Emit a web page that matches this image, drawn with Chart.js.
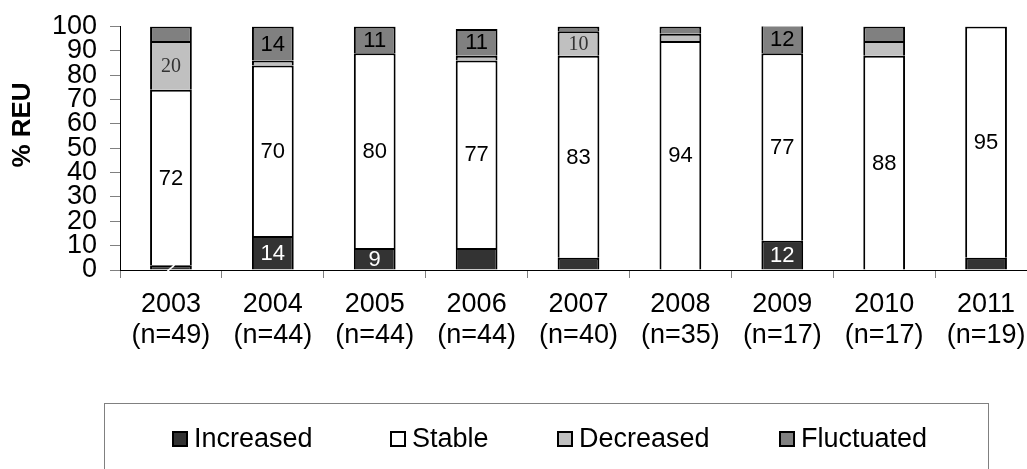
<!DOCTYPE html>
<html>
<head>
<meta charset="utf-8">
<script src="https://cdn.jsdelivr.net/npm/chart.js@4.4.0/dist/chart.umd.min.js"></script>
<style>
  html, body { margin: 0; padding: 0; background: #fff; overflow: hidden; }
  #wrap { position: relative; width: 1040px; height: 469px; }
</style>
</head>
<body>
<div id="wrap"><canvas id="c" width="1040" height="469"></canvas></div>
<script>
// Survey years and the number of responses per year
const years = ['2003', '2004', '2005', '2006', '2007', '2008', '2009', '2010', '2011'];
const sampleSizes = [49, 44, 44, 44, 40, 35, 17, 17, 19];

// Share of REU (%) in each trend class
const increased  = [2, 14, 9, 9, 5, 0, 12, 0, 5];
const stable     = [72, 70, 80, 77, 83, 94, 77, 88, 95];
const decreased  = [20, 2, 0, 2, 10, 3, 0, 6, 0];
const fluctuated = [6, 14, 11, 11, 2, 3, 12, 6, 0];

// Segments that carry a printed value
const showIncreased  = [true, true, true, false, false, false, true, false, false];
const showStable     = [true, true, true, true, true, true, true, true, true];
const showDecreased  = [true, false, false, false, true, false, false, false, false];
const showFluctuated = [false, true, true, true, false, false, true, false, false];

const yTicks = [0, 10, 20, 30, 40, 50, 60, 70, 80, 90, 100];
const yTitle = '% REU';

const SANS = '"Liberation Sans", Arial, Helvetica, sans-serif';
const SERIF = '"Liberation Serif", "Times New Roman", serif';

Chart.defaults.font.family = SANS;
Chart.defaults.color = '#000';

const categoryLabels = years.map((y, i) => [y, '(n=' + sampleSizes[i] + ')']);

function series(label, data, fill, show, labelColor, labelFont) {
  return {
    label: label,
    data: data,
    backgroundColor: fill,
    borderColor: '#000',
    borderWidth: 2,
    barPercentage: 0.41,
    categoryPercentage: 1.0,
    showValue: show,
    labelColor: labelColor,
    labelFont: labelFont
  };
}

// Value labels centred in each stacked segment
const valueLabels = {
  id: 'valueLabels',
  afterDatasetsDraw(chart) {
    const ctx = chart.ctx;
    chart.data.datasets.forEach((ds, i) => {
      const meta = chart.getDatasetMeta(i);
      meta.data.forEach((bar, j) => {
        if (!ds.showValue[j]) return;
        const p = bar.getProps(['x', 'y', 'base'], true);
        ctx.save();
        ctx.font = ds.labelFont;
        ctx.fillStyle = ds.labelColor;
        ctx.textAlign = 'center';
        ctx.textBaseline = 'middle';
        ctx.fillText(String(ds.data[j]), p.x, (p.y + p.base) / 2 + 1);
        ctx.restore();
      });
    });
  }
};

// Rotated y-axis title
const axisTitle = {
  id: 'axisTitle',
  afterDraw(chart) {
    const ctx = chart.ctx;
    ctx.save();
    ctx.translate(23, 125);
    ctx.rotate(-Math.PI / 2);
    ctx.font = 'bold 26px ' + SANS;
    ctx.fillStyle = '#000';
    ctx.textAlign = 'center';
    ctx.textBaseline = 'middle';
    ctx.fillText(yTitle, 0, 0);
    ctx.restore();
  }
};

// Framed legend under the plot
const framedLegend = {
  id: 'framedLegend',
  afterDraw(chart) {
    const ctx = chart.ctx;
    ctx.save();
    ctx.strokeStyle = '#808080';
    ctx.lineWidth = 1;
    ctx.strokeRect(104.5, 403.5, 884, 100);
    const boxX = [172, 390, 557, 779];
    const boxY = 431, size = 16;
    ctx.font = '27px ' + SANS;
    ctx.textBaseline = 'middle';
    ctx.textAlign = 'left';
    chart.data.datasets.forEach((ds, i) => {
      const x = boxX[i];
      ctx.fillStyle = '#000';
      ctx.fillRect(x, boxY, size, size);
      ctx.fillStyle = ds.backgroundColor;
      ctx.fillRect(x + 2, boxY + 2, size - 4, size - 4);
      ctx.fillStyle = '#000';
      ctx.fillText(ds.label, x + size + 6, boxY + size / 2 + 1);
    });
    ctx.restore();
  }
};

new Chart(document.getElementById('c'), {
  type: 'bar',
  data: {
    labels: categoryLabels,
    datasets: [
      series('Increased', increased, '#333333', showIncreased, '#fff', '22px ' + SANS),
      series('Stable', stable, '#ffffff', showStable, '#000', '22px ' + SANS),
      series('Decreased', decreased, '#c0c0c0', showDecreased, '#333', '20px ' + SERIF),
      series('Fluctuated', fluctuated, '#808080', showFluctuated, '#000', '22px ' + SANS)
    ]
  },
  options: {
    responsive: false,
    animation: false,
    devicePixelRatio: 1,
    layout: { padding: { top: 25, right: 3, left: 0, bottom: 0 } },
    plugins: {
      legend: { display: false },
      tooltip: { enabled: false }
    },
    scales: {
      x: {
        stacked: true,
        offset: true,
        grid: {
          display: true,
          drawOnChartArea: false,
          offset: true,
          tickLength: 8,
          color: '#808080',
          tickColor: '#808080',
          tickWidth: 1
        },
        border: { display: true, color: '#000', width: 1 },
        ticks: {
          color: '#000',
          font: { size: 27, lineHeight: 1.15 },
          padding: 11,
          autoSkip: false,
          maxRotation: 0
        },
        afterFit(s) { s.height = 199; }
      },
      y: {
        stacked: true,
        min: 0,
        max: 100,
        afterBuildTicks(s) { s.ticks = yTicks.map(v => ({ value: v })); },
        grid: {
          drawOnChartArea: false,
          tickLength: 10,
          color: '#808080',
          tickColor: '#808080'
        },
        border: { display: true, color: '#000', width: 1 },
        ticks: {
          color: '#000',
          font: { size: 27, lineHeight: 1 },
          padding: 13,
          autoSkip: false
        },
        afterFit(s) { s.width = 120; }
      }
    }
  },
  plugins: [valueLabels, axisTitle, framedLegend]
});
</script>
</body>
</html>
